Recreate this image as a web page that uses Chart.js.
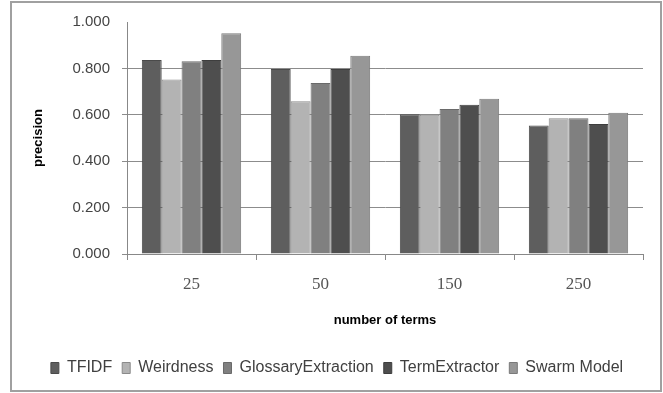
<!DOCTYPE html>
<html>
<head>
<meta charset="utf-8">
<script src="https://cdn.jsdelivr.net/npm/chart.js@4/dist/chart.umd.min.js"></script>
<style>
  html, body { margin: 0; padding: 0; background: #fff; }
  #wrap { position: relative; width: 663px; height: 393px; }
</style>
</head>
<body>
<div id="wrap"><canvas id="c" width="663" height="393"></canvas></div>
<script>
const categories = ['25', '50', '150', '250'];
const tfidf = [0.836, 0.797, 0.602, 0.554];
const weirdness = [0.752, 0.658, 0.600, 0.585];
const glossaryExtraction = [0.831, 0.737, 0.625, 0.585];
const termExtractor = [0.836, 0.797, 0.643, 0.560];
const swarmModel = [0.952, 0.854, 0.669, 0.609];
const seriesNames = ['TFIDF', 'Weirdness', 'GlossaryExtraction', 'TermExtractor', 'Swarm Model'];
const yTicks = [0, 0.2, 0.4, 0.6, 0.8, 1.0];

const colors = ['#5e5e5e', '#b3b3b3', '#808080', '#4e4e4e', '#979797'];
const borders = ['#4a4a4a', '#8a8a8a', '#6a6a6a', '#3e3e3e', '#7a7a7a'];
const values = [tfidf, weirdness, glossaryExtraction, termExtractor, swarmModel];

const frame = {
  id: 'frame',
  afterDraw(chart) {
    const ctx = chart.ctx;
    ctx.save();
    ctx.strokeStyle = '#a0a0a0';
    ctx.lineWidth = 2;
    ctx.strokeRect(11, 2, 650, 389);
    ctx.restore();
  }
};

new Chart(document.getElementById('c'), {
  type: 'bar',
  data: {
    labels: categories,
    datasets: seriesNames.map((n, i) => ({
      label: n,
      data: values[i],
      backgroundColor: colors[i],
      borderColor: borders[i],
      borderWidth: 1,
      categoryPercentage: 0.77,
      barPercentage: 1.0
    }))
  },
  options: {
    responsive: false,
    animation: false,
    devicePixelRatio: 1,
    layout: { padding: { left: 31, right: 20, top: 22, bottom: 7 } },
    plugins: {
      tooltip: { enabled: false },
      legend: {
        position: 'bottom',
        labels: {
          boxWidth: 8,
          boxHeight: 11,
          padding: 10,
          color: '#404040',
          font: { family: 'Liberation Sans', size: 16 }
        }
      }
    },
    scales: {
      x: {
        grid: { display: true, drawOnChartArea: false, offset: true, tickLength: 6, color: '#888' },
        border: { color: '#888' },
        ticks: { color: '#555', padding: 14, font: { family: 'Liberation Serif', size: 17 } },
        title: { display: true, text: 'number of terms', color: '#000', padding: { top: 14, bottom: 22 },
                 font: { family: 'Liberation Sans', size: 13, weight: 'bold' } },
        afterFit(scale) { scale.height = 96; }
      },
      y: {
        min: 0, max: 1,
        afterBuildTicks(scale) { scale.ticks = yTicks.map(v => ({ value: v })); },
        grid: {
          color: ctx => (ctx.tick && ctx.tick.value >= 1 ? 'rgba(0,0,0,0)' : '#8c8c8c'),
          tickLength: 5
        },
        border: { color: '#888' },
        ticks: {
          color: '#444', padding: 12,
          font: { family: 'Liberation Sans', size: 15 },
          callback: v => Number(v).toFixed(3)
        },
        title: { display: true, text: 'precision', color: '#000', padding: { top: 0, bottom: 10 },
                 font: { family: 'Liberation Sans', size: 13, weight: 'bold' } },
        afterFit(scale) { scale.width = 96; }
      }
    }
  },
  plugins: [frame]
});
</script>
</body>
</html>
